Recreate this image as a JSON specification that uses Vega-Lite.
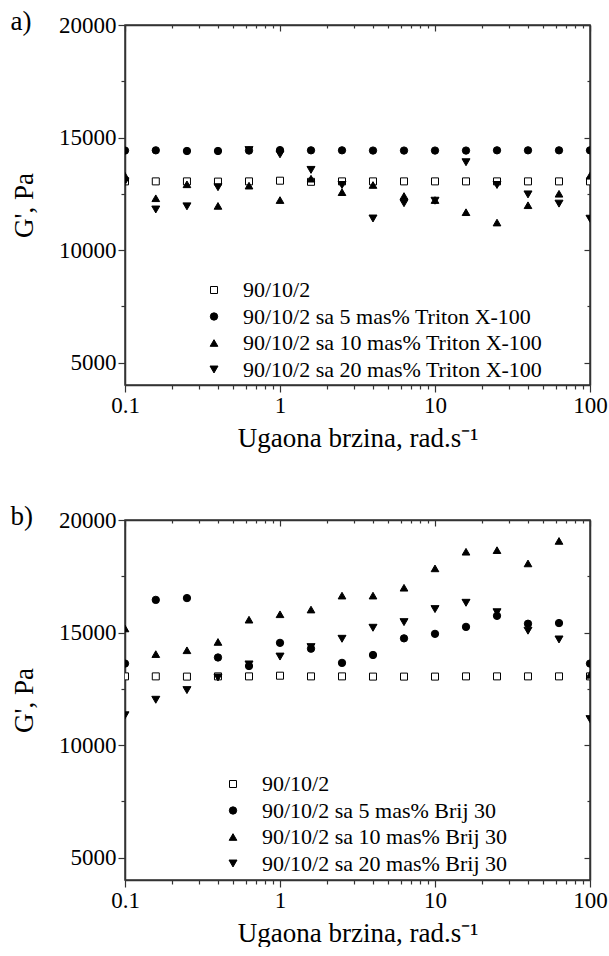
{
  "$schema": "https://vega.github.io/schema/vega-lite/v6.json",
  "padding": {"left": 9, "top": 7, "right": 0, "bottom": 0},
  "background": "white",
  "datasets": {
    "a": [
      {"x": 0.1, "y": 13050, "s": "90/10/2"},
      {"x": 0.158, "y": 13050, "s": "90/10/2"},
      {"x": 0.251, "y": 13050, "s": "90/10/2"},
      {"x": 0.398, "y": 13040, "s": "90/10/2"},
      {"x": 0.631, "y": 13050, "s": "90/10/2"},
      {"x": 1, "y": 13080, "s": "90/10/2"},
      {"x": 1.585, "y": 13030, "s": "90/10/2"},
      {"x": 2.512, "y": 13050, "s": "90/10/2"},
      {"x": 3.981, "y": 13050, "s": "90/10/2"},
      {"x": 6.31, "y": 13050, "s": "90/10/2"},
      {"x": 10, "y": 13050, "s": "90/10/2"},
      {"x": 15.85, "y": 13050, "s": "90/10/2"},
      {"x": 25.12, "y": 13050, "s": "90/10/2"},
      {"x": 39.81, "y": 13050, "s": "90/10/2"},
      {"x": 63.1, "y": 13050, "s": "90/10/2"},
      {"x": 100, "y": 13050, "s": "90/10/2"},
      {"x": 0.1, "y": 14420, "s": "90/10/2 sa 5 mas% Triton X-100"},
      {"x": 0.158, "y": 14430, "s": "90/10/2 sa 5 mas% Triton X-100"},
      {"x": 0.251, "y": 14400, "s": "90/10/2 sa 5 mas% Triton X-100"},
      {"x": 0.398, "y": 14400, "s": "90/10/2 sa 5 mas% Triton X-100"},
      {"x": 0.631, "y": 14420, "s": "90/10/2 sa 5 mas% Triton X-100"},
      {"x": 1, "y": 14440, "s": "90/10/2 sa 5 mas% Triton X-100"},
      {"x": 1.585, "y": 14430, "s": "90/10/2 sa 5 mas% Triton X-100"},
      {"x": 2.512, "y": 14430, "s": "90/10/2 sa 5 mas% Triton X-100"},
      {"x": 3.981, "y": 14420, "s": "90/10/2 sa 5 mas% Triton X-100"},
      {"x": 6.31, "y": 14420, "s": "90/10/2 sa 5 mas% Triton X-100"},
      {"x": 10, "y": 14420, "s": "90/10/2 sa 5 mas% Triton X-100"},
      {"x": 15.85, "y": 14420, "s": "90/10/2 sa 5 mas% Triton X-100"},
      {"x": 25.12, "y": 14430, "s": "90/10/2 sa 5 mas% Triton X-100"},
      {"x": 39.81, "y": 14430, "s": "90/10/2 sa 5 mas% Triton X-100"},
      {"x": 63.1, "y": 14430, "s": "90/10/2 sa 5 mas% Triton X-100"},
      {"x": 100, "y": 14430, "s": "90/10/2 sa 5 mas% Triton X-100"},
      {"x": 0.1, "y": 13300, "s": "90/10/2 sa 10 mas% Triton X-100"},
      {"x": 0.158, "y": 12300, "s": "90/10/2 sa 10 mas% Triton X-100"},
      {"x": 0.251, "y": 12920, "s": "90/10/2 sa 10 mas% Triton X-100"},
      {"x": 0.398, "y": 11960, "s": "90/10/2 sa 10 mas% Triton X-100"},
      {"x": 0.631, "y": 12860, "s": "90/10/2 sa 10 mas% Triton X-100"},
      {"x": 1, "y": 12220, "s": "90/10/2 sa 10 mas% Triton X-100"},
      {"x": 1.585, "y": 13170, "s": "90/10/2 sa 10 mas% Triton X-100"},
      {"x": 2.512, "y": 12570, "s": "90/10/2 sa 10 mas% Triton X-100"},
      {"x": 3.981, "y": 12890, "s": "90/10/2 sa 10 mas% Triton X-100"},
      {"x": 6.31, "y": 12400, "s": "90/10/2 sa 10 mas% Triton X-100"},
      {"x": 10, "y": 12220, "s": "90/10/2 sa 10 mas% Triton X-100"},
      {"x": 15.85, "y": 11680, "s": "90/10/2 sa 10 mas% Triton X-100"},
      {"x": 25.12, "y": 11220, "s": "90/10/2 sa 10 mas% Triton X-100"},
      {"x": 39.81, "y": 11990, "s": "90/10/2 sa 10 mas% Triton X-100"},
      {"x": 63.1, "y": 12500, "s": "90/10/2 sa 10 mas% Triton X-100"},
      {"x": 100, "y": 13300, "s": "90/10/2 sa 10 mas% Triton X-100"},
      {"x": 0.1, "y": 13050, "s": "90/10/2 sa 20 mas% Triton X-100"},
      {"x": 0.158, "y": 11800, "s": "90/10/2 sa 20 mas% Triton X-100"},
      {"x": 0.251, "y": 11940, "s": "90/10/2 sa 20 mas% Triton X-100"},
      {"x": 0.398, "y": 12790, "s": "90/10/2 sa 20 mas% Triton X-100"},
      {"x": 0.631, "y": 14440, "s": "90/10/2 sa 20 mas% Triton X-100"},
      {"x": 1, "y": 14250, "s": "90/10/2 sa 20 mas% Triton X-100"},
      {"x": 1.585, "y": 13560, "s": "90/10/2 sa 20 mas% Triton X-100"},
      {"x": 2.512, "y": 12890, "s": "90/10/2 sa 20 mas% Triton X-100"},
      {"x": 3.981, "y": 11400, "s": "90/10/2 sa 20 mas% Triton X-100"},
      {"x": 6.31, "y": 12080, "s": "90/10/2 sa 20 mas% Triton X-100"},
      {"x": 10, "y": 12190, "s": "90/10/2 sa 20 mas% Triton X-100"},
      {"x": 15.85, "y": 13900, "s": "90/10/2 sa 20 mas% Triton X-100"},
      {"x": 25.12, "y": 12890, "s": "90/10/2 sa 20 mas% Triton X-100"},
      {"x": 39.81, "y": 12470, "s": "90/10/2 sa 20 mas% Triton X-100"},
      {"x": 63.1, "y": 12060, "s": "90/10/2 sa 20 mas% Triton X-100"},
      {"x": 100, "y": 11390, "s": "90/10/2 sa 20 mas% Triton X-100"}
    ],
    "b": [
      {"x": 0.1, "y": 13050, "s": "90/10/2"},
      {"x": 0.158, "y": 13050, "s": "90/10/2"},
      {"x": 0.251, "y": 13040, "s": "90/10/2"},
      {"x": 0.398, "y": 13050, "s": "90/10/2"},
      {"x": 0.631, "y": 13050, "s": "90/10/2"},
      {"x": 1, "y": 13080, "s": "90/10/2"},
      {"x": 1.585, "y": 13050, "s": "90/10/2"},
      {"x": 2.512, "y": 13050, "s": "90/10/2"},
      {"x": 3.981, "y": 13040, "s": "90/10/2"},
      {"x": 6.31, "y": 13040, "s": "90/10/2"},
      {"x": 10, "y": 13040, "s": "90/10/2"},
      {"x": 15.85, "y": 13050, "s": "90/10/2"},
      {"x": 25.12, "y": 13050, "s": "90/10/2"},
      {"x": 39.81, "y": 13050, "s": "90/10/2"},
      {"x": 63.1, "y": 13050, "s": "90/10/2"},
      {"x": 100, "y": 13050, "s": "90/10/2"},
      {"x": 0.1, "y": 13620, "s": "90/10/2 sa 5 mas% Brij 30"},
      {"x": 0.158, "y": 16450, "s": "90/10/2 sa 5 mas% Brij 30"},
      {"x": 0.251, "y": 16530, "s": "90/10/2 sa 5 mas% Brij 30"},
      {"x": 0.398, "y": 13890, "s": "90/10/2 sa 5 mas% Brij 30"},
      {"x": 0.631, "y": 13510, "s": "90/10/2 sa 5 mas% Brij 30"},
      {"x": 1, "y": 14540, "s": "90/10/2 sa 5 mas% Brij 30"},
      {"x": 1.585, "y": 14280, "s": "90/10/2 sa 5 mas% Brij 30"},
      {"x": 2.512, "y": 13650, "s": "90/10/2 sa 5 mas% Brij 30"},
      {"x": 3.981, "y": 14000, "s": "90/10/2 sa 5 mas% Brij 30"},
      {"x": 6.31, "y": 14740, "s": "90/10/2 sa 5 mas% Brij 30"},
      {"x": 10, "y": 14940, "s": "90/10/2 sa 5 mas% Brij 30"},
      {"x": 15.85, "y": 15250, "s": "90/10/2 sa 5 mas% Brij 30"},
      {"x": 25.12, "y": 15740, "s": "90/10/2 sa 5 mas% Brij 30"},
      {"x": 39.81, "y": 15390, "s": "90/10/2 sa 5 mas% Brij 30"},
      {"x": 63.1, "y": 15420, "s": "90/10/2 sa 5 mas% Brij 30"},
      {"x": 100, "y": 13620, "s": "90/10/2 sa 5 mas% Brij 30"},
      {"x": 0.1, "y": 15180, "s": "90/10/2 sa 10 mas% Brij 30"},
      {"x": 0.158, "y": 14040, "s": "90/10/2 sa 10 mas% Brij 30"},
      {"x": 0.251, "y": 14210, "s": "90/10/2 sa 10 mas% Brij 30"},
      {"x": 0.398, "y": 14580, "s": "90/10/2 sa 10 mas% Brij 30"},
      {"x": 0.631, "y": 15570, "s": "90/10/2 sa 10 mas% Brij 30"},
      {"x": 1, "y": 15810, "s": "90/10/2 sa 10 mas% Brij 30"},
      {"x": 1.585, "y": 16020, "s": "90/10/2 sa 10 mas% Brij 30"},
      {"x": 2.512, "y": 16640, "s": "90/10/2 sa 10 mas% Brij 30"},
      {"x": 3.981, "y": 16640, "s": "90/10/2 sa 10 mas% Brij 30"},
      {"x": 6.31, "y": 16990, "s": "90/10/2 sa 10 mas% Brij 30"},
      {"x": 10, "y": 17850, "s": "90/10/2 sa 10 mas% Brij 30"},
      {"x": 15.85, "y": 18590, "s": "90/10/2 sa 10 mas% Brij 30"},
      {"x": 25.12, "y": 18660, "s": "90/10/2 sa 10 mas% Brij 30"},
      {"x": 39.81, "y": 18070, "s": "90/10/2 sa 10 mas% Brij 30"},
      {"x": 63.1, "y": 19070, "s": "90/10/2 sa 10 mas% Brij 30"},
      {"x": 100, "y": 13120, "s": "90/10/2 sa 10 mas% Brij 30"},
      {"x": 0.1, "y": 11320, "s": "90/10/2 sa 20 mas% Brij 30"},
      {"x": 0.158, "y": 12010, "s": "90/10/2 sa 20 mas% Brij 30"},
      {"x": 0.251, "y": 12440, "s": "90/10/2 sa 20 mas% Brij 30"},
      {"x": 0.398, "y": 13000, "s": "90/10/2 sa 20 mas% Brij 30"},
      {"x": 0.631, "y": 13580, "s": "90/10/2 sa 20 mas% Brij 30"},
      {"x": 1, "y": 13930, "s": "90/10/2 sa 20 mas% Brij 30"},
      {"x": 1.585, "y": 14350, "s": "90/10/2 sa 20 mas% Brij 30"},
      {"x": 2.512, "y": 14720, "s": "90/10/2 sa 20 mas% Brij 30"},
      {"x": 3.981, "y": 15210, "s": "90/10/2 sa 20 mas% Brij 30"},
      {"x": 6.31, "y": 15460, "s": "90/10/2 sa 20 mas% Brij 30"},
      {"x": 10, "y": 16040, "s": "90/10/2 sa 20 mas% Brij 30"},
      {"x": 15.85, "y": 16320, "s": "90/10/2 sa 20 mas% Brij 30"},
      {"x": 25.12, "y": 15900, "s": "90/10/2 sa 20 mas% Brij 30"},
      {"x": 39.81, "y": 15080, "s": "90/10/2 sa 20 mas% Brij 30"},
      {"x": 63.1, "y": 14690, "s": "90/10/2 sa 20 mas% Brij 30"},
      {"x": 100, "y": 11150, "s": "90/10/2 sa 20 mas% Brij 30"}
    ]
  },
  "spacing": 50,
  "vconcat": [
    {
      "width": 465,
      "height": 360,
      "data": {"name": "a"},
      "title": {"text": "a)", "anchor": "start", "frame": "bounds", "fontSize": 27, "fontWeight": "normal", "offset": -22},
      "layer": [
        {
          "mark": {"type": "point", "filled": true, "strokeWidth": 1, "opacity": 1, "clip": true},
          "encoding": {
            "x": {"field": "x", "type": "quantitative", "scale": {"type": "log", "domain": [0.1, 100]},
              "axis": {"orient": "bottom", "title": "Ugaona brzina, rad.s⁻¹", "values": [0.1,0.2,0.3,0.4,0.5,0.6,0.7,0.8,0.9,1,2,3,4,5,6,7,8,9,10,20,30,40,50,60,70,80,90,100],
                "labelExpr": "abs(log(datum.value)/LN10 - round(log(datum.value)/LN10)) < 0.01 ? format(datum.value, '~g') : ''",
                "tickSize": {"condition": {"test": "abs(log(datum.value)/LN10 - round(log(datum.value)/LN10)) < 0.01", "value": 7}, "value": 4},
                "labelPadding": 2, "titlePadding": 8, "labelOverlap": false, "labelFlush": false, "labelBound": false}},
            "y": {"field": "y", "type": "quantitative", "scale": {"domain": [5000, 20000]},
              "axis": {"orient": "left", "title": "G', Pa", "values": [5000,7500,10000,12500,15000,17500,20000],
                "labelExpr": "datum.value % 5000 == 0 ? format(datum.value, 'd') : ''",
                "tickSize": {"condition": {"test": "datum.value % 5000 == 0", "value": 7}, "value": 4},
                "labelPadding": 2, "titlePadding": 20, "labelOverlap": false, "labelFlush": false, "labelBound": false}},
            "shape": {"field": "s", "type": "nominal",
              "scale": {"domain": ["90/10/2", "90/10/2 sa 5 mas% Triton X-100", "90/10/2 sa 10 mas% Triton X-100", "90/10/2 sa 20 mas% Triton X-100"], "range": ["square", "circle", "triangle-up", "triangle-down"]},
              "legend": {"title": null, "orient": "none", "legendX": 78, "legendY": 254, "labelFontSize": 22, "symbolStrokeWidth": 1, "labelOffset": 18, "rowPadding": 4.5, "labelLimit": 500}},
            "fill": {"field": "s", "type": "nominal",
              "scale": {"domain": ["90/10/2", "90/10/2 sa 5 mas% Triton X-100", "90/10/2 sa 10 mas% Triton X-100", "90/10/2 sa 20 mas% Triton X-100"], "range": ["white", "black", "black", "black"]},
              "legend": {"title": null, "orient": "none", "legendX": 78, "legendY": 254, "labelFontSize": 22, "symbolStrokeWidth": 1, "labelOffset": 18, "rowPadding": 4.5, "labelLimit": 500}},
            "stroke": {"field": "s", "type": "nominal",
              "scale": {"domain": ["90/10/2", "90/10/2 sa 5 mas% Triton X-100", "90/10/2 sa 10 mas% Triton X-100", "90/10/2 sa 20 mas% Triton X-100"], "range": ["black", "black", "black", "black"]},
              "legend": {"title": null, "orient": "none", "legendX": 78, "legendY": 254, "labelFontSize": 22, "symbolStrokeWidth": 1, "labelOffset": 18, "rowPadding": 4.5, "labelLimit": 500}},
            "size": {"field": "s", "type": "nominal",
              "scale": {"domain": ["90/10/2", "90/10/2 sa 5 mas% Triton X-100", "90/10/2 sa 10 mas% Triton X-100", "90/10/2 sa 20 mas% Triton X-100"], "range": [49, 64, 100, 100]},
              "legend": {"title": null, "orient": "none", "legendX": 78, "legendY": 254, "labelFontSize": 22, "symbolStrokeWidth": 1, "labelOffset": 18, "rowPadding": 4.5, "labelLimit": 500}}
          }
        },
        {
          "transform": [{"filter": "false"}],
          "mark": {"type": "point"},
          "encoding": {
            "x": {"field": "x", "type": "quantitative",
              "axis": {"orient": "top", "title": null, "labels": false, "values": [0.1,0.2,0.3,0.4,0.5,0.6,0.7,0.8,0.9,1,2,3,4,5,6,7,8,9,10,20,30,40,50,60,70,80,90,100],
                "tickSize": {"condition": {"test": "abs(log(datum.value)/LN10 - round(log(datum.value)/LN10)) < 0.01", "value": -6}, "value": -3}}},
            "y": {"field": "y", "type": "quantitative",
              "axis": {"orient": "right", "title": null, "labels": false, "values": [5000,7500,10000,12500,15000,17500,20000],
                "tickSize": {"condition": {"test": "datum.value % 5000 == 0", "value": -6}, "value": -3}}}
          }
        }
      ],
      "resolve": {"axis": {"x": "independent", "y": "independent"}}
    },
    {
      "width": 465,
      "height": 360,
      "data": {"name": "b"},
      "title": {"text": "b)", "anchor": "start", "frame": "bounds", "fontSize": 27, "fontWeight": "normal", "offset": -22},
      "layer": [
        {
          "mark": {"type": "point", "filled": true, "strokeWidth": 1, "opacity": 1, "clip": true},
          "encoding": {
            "x": {"field": "x", "type": "quantitative", "scale": {"type": "log", "domain": [0.1, 100]},
              "axis": {"orient": "bottom", "title": "Ugaona brzina, rad.s⁻¹", "values": [0.1,0.2,0.3,0.4,0.5,0.6,0.7,0.8,0.9,1,2,3,4,5,6,7,8,9,10,20,30,40,50,60,70,80,90,100],
                "labelExpr": "abs(log(datum.value)/LN10 - round(log(datum.value)/LN10)) < 0.01 ? format(datum.value, '~g') : ''",
                "tickSize": {"condition": {"test": "abs(log(datum.value)/LN10 - round(log(datum.value)/LN10)) < 0.01", "value": 7}, "value": 4},
                "labelPadding": 2, "titlePadding": 8, "labelOverlap": false, "labelFlush": false, "labelBound": false}},
            "y": {"field": "y", "type": "quantitative", "scale": {"domain": [5000, 20000]},
              "axis": {"orient": "left", "title": "G', Pa", "values": [5000,7500,10000,12500,15000,17500,20000],
                "labelExpr": "datum.value % 5000 == 0 ? format(datum.value, 'd') : ''",
                "tickSize": {"condition": {"test": "datum.value % 5000 == 0", "value": 7}, "value": 4},
                "labelPadding": 2, "titlePadding": 20, "labelOverlap": false, "labelFlush": false, "labelBound": false}},
            "shape": {"field": "s", "type": "nominal",
              "scale": {"domain": ["90/10/2", "90/10/2 sa 5 mas% Brij 30", "90/10/2 sa 10 mas% Brij 30", "90/10/2 sa 20 mas% Brij 30"], "range": ["square", "circle", "triangle-up", "triangle-down"]},
              "legend": {"title": null, "orient": "none", "legendX": 97, "legendY": 253, "labelFontSize": 22, "symbolStrokeWidth": 1, "labelOffset": 18, "rowPadding": 4.5, "labelLimit": 500}},
            "fill": {"field": "s", "type": "nominal",
              "scale": {"domain": ["90/10/2", "90/10/2 sa 5 mas% Brij 30", "90/10/2 sa 10 mas% Brij 30", "90/10/2 sa 20 mas% Brij 30"], "range": ["white", "black", "black", "black"]},
              "legend": {"title": null, "orient": "none", "legendX": 97, "legendY": 253, "labelFontSize": 22, "symbolStrokeWidth": 1, "labelOffset": 18, "rowPadding": 4.5, "labelLimit": 500}},
            "stroke": {"field": "s", "type": "nominal",
              "scale": {"domain": ["90/10/2", "90/10/2 sa 5 mas% Brij 30", "90/10/2 sa 10 mas% Brij 30", "90/10/2 sa 20 mas% Brij 30"], "range": ["black", "black", "black", "black"]},
              "legend": {"title": null, "orient": "none", "legendX": 97, "legendY": 253, "labelFontSize": 22, "symbolStrokeWidth": 1, "labelOffset": 18, "rowPadding": 4.5, "labelLimit": 500}},
            "size": {"field": "s", "type": "nominal",
              "scale": {"domain": ["90/10/2", "90/10/2 sa 5 mas% Brij 30", "90/10/2 sa 10 mas% Brij 30", "90/10/2 sa 20 mas% Brij 30"], "range": [49, 64, 100, 100]},
              "legend": {"title": null, "orient": "none", "legendX": 97, "legendY": 253, "labelFontSize": 22, "symbolStrokeWidth": 1, "labelOffset": 18, "rowPadding": 4.5, "labelLimit": 500}}
          }
        },
        {
          "transform": [{"filter": "false"}],
          "mark": {"type": "point"},
          "encoding": {
            "x": {"field": "x", "type": "quantitative",
              "axis": {"orient": "top", "title": null, "labels": false, "values": [0.1,0.2,0.3,0.4,0.5,0.6,0.7,0.8,0.9,1,2,3,4,5,6,7,8,9,10,20,30,40,50,60,70,80,90,100],
                "tickSize": {"condition": {"test": "abs(log(datum.value)/LN10 - round(log(datum.value)/LN10)) < 0.01", "value": -6}, "value": -3}}},
            "y": {"field": "y", "type": "quantitative",
              "axis": {"orient": "right", "title": null, "labels": false, "values": [5000,7500,10000,12500,15000,17500,20000],
                "tickSize": {"condition": {"test": "datum.value % 5000 == 0", "value": -6}, "value": -3}}}
          }
        }
      ],
      "resolve": {"axis": {"x": "independent", "y": "independent"}}
    }
  ],
  "resolve": {"scale": {"shape": "independent", "fill": "independent", "stroke": "independent", "size": "independent"}, "legend": {"shape": "independent", "fill": "independent", "stroke": "independent", "size": "independent"}},
  "config": {
    "font": "Liberation Serif",
    "view": {"stroke": "#333333", "strokeWidth": 1.5},
    "axis": {"grid": false, "domainColor": "#333333", "domainWidth": 1.5, "tickColor": "#333333", "tickWidth": 1.2, "labelColor": "black", "titleColor": "black", "labelFont": "Liberation Serif", "titleFont": "Liberation Serif", "labelFontSize": 23, "titleFontSize": 27, "titleFontWeight": "normal"},
    "legend": {"labelFont": "Liberation Serif", "labelColor": "black"},
    "title": {"color": "black", "font": "Liberation Serif"}
  }
}
